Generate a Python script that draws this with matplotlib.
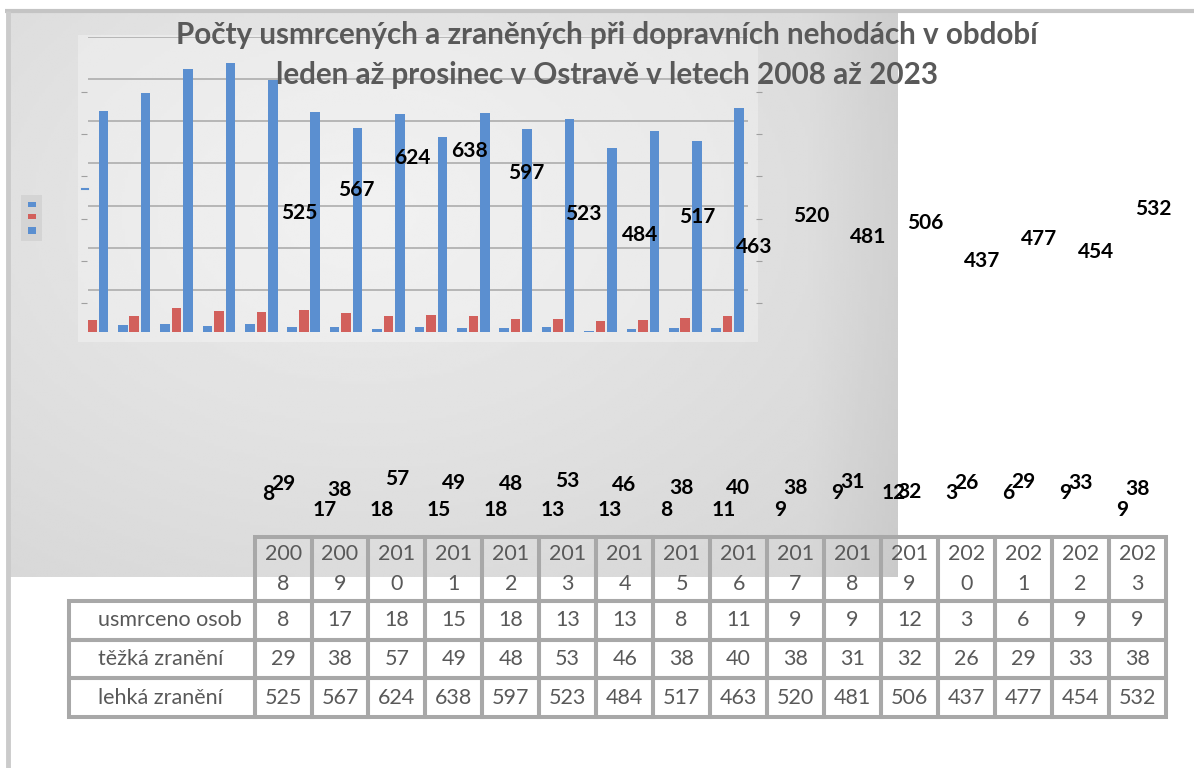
import numpy as np
import matplotlib.pyplot as plt
from matplotlib.patches import Rectangle
from matplotlib.table import Table

plt.rcParams['font.family'] = ['Lato', 'DejaVu Sans']

# data
years = [2008, 2009, 2010, 2011, 2012, 2013, 2014, 2015,
         2016, 2017, 2018, 2019, 2020, 2021, 2022, 2023]
usmrceno = [8, 17, 18, 15, 18, 13, 13, 8, 11, 9, 9, 12, 3, 6, 9, 9]
tezka = [29, 38, 57, 49, 48, 53, 46, 38, 40, 38, 31, 32, 26, 29, 33, 38]
lehka = [525, 567, 624, 638, 597, 523, 484, 517, 463, 520, 481, 506, 437, 477, 454, 532]
row_names = ['usmrceno osob', 'těžká zranění', 'lehká zranění']
title_lines = ['Počty usmrcených a zraněných při dopravních nehodách v období',
               'leden až prosinec v Ostravě v letech 2008 až 2023']

# where the stray small labels ended up (pixels above the label baseline)
usm_lift = [7, -9, -9, -9, -9, -9, -9, -9, -9, -9, 8, 8, 8, 8, 8, -9]
tez_lift = [17, 11, 22, 18, 17, 20, 16, 13, 13, 13, 19, 9, 18, 19, 18, 12]

BLUE = '#5b8fd0'
RED = '#d2605c'
GREY_TXT = '#595959'
EDGE = '#a8a8a8'

W, H = 1194, 768
fig = plt.figure(figsize=(W / 100, H / 100), dpi=100)


def px_axes(x0, y0, x1, y1, **kw):
    '''axes from a pixel box given with the origin top-left'''
    return fig.add_axes([x0 / W, 1 - y1 / H, (x1 - x0) / W, (y1 - y0) / H], **kw)


bg = fig.add_axes([0, 0, 1, 1])
bg.axis('off')

# grey chart panel with a soft gradient, darker towards the right edge
gy, gx = np.mgrid[0:1:200j, 0:1:300j]
r = np.sqrt(((gx - 0.4) / 0.8) ** 2 + ((gy - 0.35) / 0.9) ** 2)
shade = 0.925 - 0.09 * r - 0.04 * np.clip((gx - 0.9) / 0.1, 0, 1)
bg.imshow(shade, cmap='gray', vmin=0, vmax=1, extent=(8, 898, 577, 13),
          aspect='auto', zorder=0, interpolation='bilinear')
bg.add_patch(Rectangle((78, 35), 680, 307, fc='white', ec='none', alpha=0.3, zorder=1))

# frame lines
bg.plot([5, W], [11, 11], color='#c4c4c4', lw=3, zorder=2, solid_capstyle='butt')
bg.plot([8, 8], [11, H], color='#cbcbcb', lw=3.5, zorder=2, solid_capstyle='butt')

# legend without text
bg.add_patch(Rectangle((21, 195), 21, 46, fc='#d4d4d4', ec='none', zorder=2))
bg.add_patch(Rectangle((28, 202), 8, 5, fc=BLUE, ec='none', zorder=3))
bg.add_patch(Rectangle((28, 214), 8, 5, fc=RED, ec='none', zorder=3))
bg.add_patch(Rectangle((28, 227), 8, 7, fc=BLUE, ec='none', zorder=3))
bg.plot([82, 88], [189, 189], color=BLUE, lw=1.5, zorder=3)

# table under the chart
tab = Table(bg, bbox=[69 / W, 1 - 717 / H, (1165.6 - 69) / W, (717 - 536.7) / H])
tab.auto_set_font_size(False)
cells = []
for j, yr in enumerate(years):
    s = str(yr)
    c = tab.add_cell(0, j + 1, 56.9, 64.3, text=s[:3] + '\n' + s[3:], loc='center',
                     facecolor='none', edgecolor=EDGE)
    c.get_text().set_linespacing(1.6)
    cells.append(c)
for i, (name, vals) in enumerate(zip(row_names, [usmrceno, tezka, lehka])):
    c = tab.add_cell(i + 1, 0, 185.5, 38.6, text=name, loc='left',
                     facecolor='none', edgecolor=EDGE)
    c.PAD = 0.155
    cells.append(c)
    for j, v in enumerate(vals):
        c = tab.add_cell(i + 1, j + 1, 56.9, 38.6, text=str(v), loc='center',
                         facecolor='none', edgecolor=EDGE)
        cells.append(c)
for c in cells:
    c.set_linewidth(2.9)
    c.get_text().set_color(GREY_TXT)
    c.get_text().set_fontsize(15.5)
tab.set_zorder(3)
bg.add_table(tab)
bg.set_xlim(0, W)
bg.set_ylim(H, 0)

# clustered bars
ax = px_axes(88, 37, 748, 332)
ax.patch.set_alpha(0)
x = np.arange(len(years))
ax.bar(x - 0.271, usmrceno, 0.226, color=BLUE)
ax.bar(x, tezka, 0.226, color=RED)
ax.bar(x + 0.271, lehka, 0.226, color=BLUE)
ax.set_xlim(-0.09, 15.48)
ax.set_ylim(0, 700)
ax.set_yticks(range(100, 701, 100))
ax.grid(axis='y', color='#b2b2b2', lw=1.3)
ax.set_axisbelow(True)
ax.tick_params(length=0, labelleft=False, labelbottom=False)
for s in ax.spines.values():
    s.set_visible(False)

# stray tick marks of the shifted value axis
tk = px_axes(84, 50, 759, 345)
tk.patch.set_alpha(0)
tk.set_ylim(0, 700)
tk.set_yticks(range(100, 601, 100))
tk.set_xticks([])
tk.tick_params(axis='y', left=True, right=True, direction='inout', length=4,
               color='#a0a0a0', labelleft=False)
for s in tk.spines.values():
    s.set_visible(False)

# data labels, drawn against the table columns
lab = px_axes(254.5, 116.7, 1165.5, 501)
lab.set_xlim(-0.5, 15.5)
lab.set_ylim(0, 700)
lab.axis('off')
lbl = dict(ha='center', va='center', fontsize=15, fontweight='bold', color='black')
for i in range(len(years)):
    lab.text(i + 0.28, lehka[i], str(lehka[i]), **lbl)
    lab.annotate(str(tezka[i]), (i, 0), xytext=(0, tez_lift[i]),
                 textcoords='offset pixels', annotation_clip=False, **lbl)
    lab.annotate(str(usmrceno[i]), (i - 0.265, 0), xytext=(0, usm_lift[i]),
                 textcoords='offset pixels', annotation_clip=False, **lbl)

# title
fig.text(607 / W, 1 - 35 / H, title_lines[0], ha='center', va='center',
         fontsize=21.3, fontweight='bold', color=GREY_TXT)
fig.text(607 / W, 1 - 75 / H, title_lines[1], ha='center', va='center',
         fontsize=21.3, fontweight='bold', color=GREY_TXT)

fig.savefig('out.png', dpi=100)
